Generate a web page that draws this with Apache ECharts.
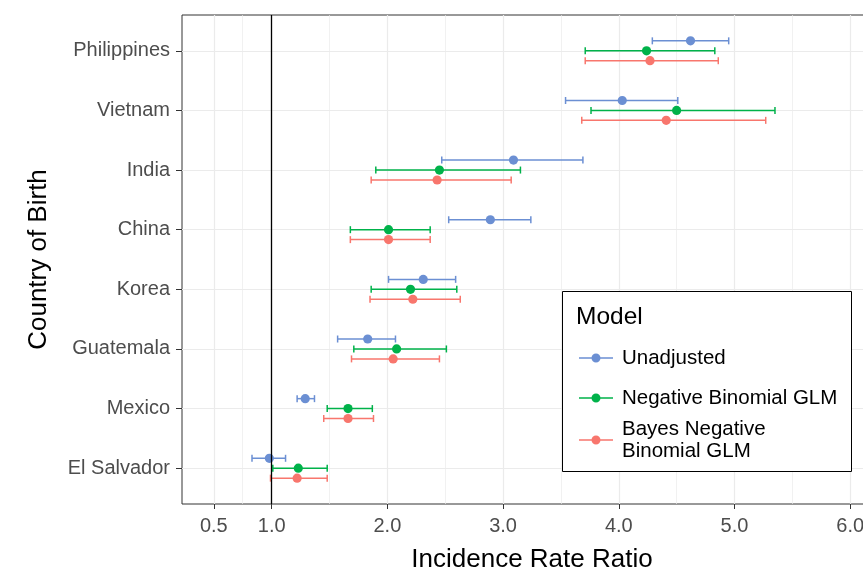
<!DOCTYPE html>
<html><head><meta charset="utf-8">
<script src="https://cdn.jsdelivr.net/npm/echarts@6/dist/echarts.min.js"></script>
<style>html,body{margin:0;padding:0;background:#fff}#chart{width:863px;height:569px}</style>
</head><body><div id="chart"></div>
<script>
const countries = ['Philippines','Vietnam','India','China','Korea','Guatemala','Mexico','El Salvador'];
const models = ['Unadjusted','Negative Binomial GLM','Bayes Negative\nBinomial GLM'];
const unadjEst  = [4.62, 4.03, 3.09, 2.89, 2.31, 1.83, 1.29, 0.98];
const unadjLow  = [4.29, 3.54, 2.47, 2.53, 2.01, 1.57, 1.22, 0.83];
const unadjHigh = [4.95, 4.51, 3.69, 3.24, 2.59, 2.07, 1.37, 1.12];
const nbEst  = [4.24, 4.50, 2.45, 2.01, 2.20, 2.08, 1.66, 1.23];
const nbLow  = [3.71, 3.76, 1.90, 1.68, 1.86, 1.71, 1.48, 1.01];
const nbHigh = [4.83, 5.35, 3.15, 2.37, 2.60, 2.51, 1.87, 1.48];
const bnbEst  = [4.27, 4.41, 2.43, 2.01, 2.22, 2.05, 1.66, 1.22];
const bnbLow  = [3.71, 3.68, 1.86, 1.68, 1.85, 1.69, 1.45, 0.99];
const bnbHigh = [4.86, 5.27, 3.07, 2.37, 2.63, 2.45, 1.88, 1.48];
const xTicks = [0.5, 1, 2, 3, 4, 5, 6];
const xMinorTicks = [0.75, 1.5, 2.5, 3.5, 4.5, 5.5];
const refValue = 1;

const colors = ['#6B8FD3', '#00B24A', '#F8766D'];
const dodge = [-1/6, 0, 1/6];
const FONT = '"Liberation Sans", Arial, sans-serif';
const yTicks = countries.map((c, i) => i + 1);

function build(low, est, high, k) {
  return est.map((e, i) => [low[i], e, high[i], i + 1 + dodge[k]]);
}
const seriesData = [
  build(unadjLow, unadjEst, unadjHigh, 0),
  build(nbLow, nbEst, nbHigh, 1),
  build(bnbLow, bnbEst, bnbHigh, 2)
];

function renderBar(params, api) {
  const y = api.value(3);
  const lo = api.coord([api.value(0), y]);
  const pt = api.coord([api.value(1), y]);
  const hi = api.coord([api.value(2), y]);
  const c = api.visual('color');
  const h = 3.5, lw = 1.5;
  return {type: 'group', children: [
    {type: 'line', shape: {x1: lo[0], y1: lo[1], x2: hi[0], y2: hi[1]}, style: {stroke: c, lineWidth: lw}},
    {type: 'line', shape: {x1: lo[0], y1: lo[1] - h, x2: lo[0], y2: lo[1] + h}, style: {stroke: c, lineWidth: lw}},
    {type: 'line', shape: {x1: hi[0], y1: hi[1] - h, x2: hi[0], y2: hi[1] + h}, style: {stroke: c, lineWidth: lw}},
    {type: 'circle', shape: {cx: pt[0], cy: pt[1], r: 4.6}, style: {fill: c}}
  ]};
}

const iconPath = 'path://M0,3.3H34V4.7H0Z M21.5,4A4.5,4.5 0 1 1 12.5,4A4.5,4.5 0 1 1 21.5,4Z';
const legendTops = [347, 387, 418];

const chart = echarts.init(document.getElementById('chart'), null, {renderer: 'canvas'});
chart.setOption({
  animation: false,
  textStyle: {fontFamily: FONT},
  grid: {left: 182, top: 15, width: 700, height: 489, outerBoundsMode: 'none', containLabel: false,
    show: true, borderColor: '#333333', borderWidth: 1, backgroundColor: 'transparent'},
  xAxis: [{
    type: 'value', min: 0.225, max: 6.275,
    axisLine: {show: false},
    axisTick: {show: true, customValues: xTicks, length: 5, lineStyle: {color: '#333333', width: 1}},
    axisLabel: {customValues: xTicks, formatter: v => Number(v).toFixed(1), fontSize: 20, color: '#4D4D4D', margin: 12, fontFamily: FONT},
    splitLine: {show: true, lineStyle: {color: '#EBEBEB', width: 1.2}},
    name: 'Incidence Rate Ratio', nameLocation: 'middle', nameGap: 43,
    nameTextStyle: {fontSize: 26, color: '#000', fontFamily: FONT}
  }, {
    type: 'value', min: 0.225, max: 6.275, position: 'bottom',
    axisLine: {show: false},
    axisTick: {show: false, customValues: xMinorTicks},
    axisLabel: {show: false, customValues: xMinorTicks},
    splitLine: {show: true, lineStyle: {color: '#EBEBEB', width: 0.7}}
  }],
  yAxis: {
    type: 'value', inverse: true, min: 0.4, max: 8.6,
    axisLine: {show: false},
    axisTick: {show: true, customValues: yTicks, length: 6, lineStyle: {color: '#333333', width: 1}},
    axisLabel: {customValues: yTicks, formatter: v => countries[Math.round(v) - 1] || '', fontSize: 20, color: '#4D4D4D', margin: 12, fontFamily: FONT},
    splitLine: {show: true, lineStyle: {color: '#EBEBEB', width: 1.2}},
    name: 'Country of Birth', nameLocation: 'middle', nameGap: 130, nameRotate: 90,
    nameTextStyle: {fontSize: 26, color: '#000', fontFamily: FONT}
  },
  legend: models.map((m, i) => ({
    data: [m], left: 579, top: legendTops[i], orient: 'vertical', padding: 0,
    itemWidth: 34, itemHeight: 9, icon: iconPath, selectedMode: false,
    textStyle: {fontSize: 20.5, color: '#000', lineHeight: 22, padding: [0, 0, 0, 4], fontFamily: FONT}
  })),
  graphic: [
    {type: 'rect', z: 3, shape: {x: 562.5, y: 291.5, width: 289, height: 180}, style: {fill: '#fff', stroke: '#000', lineWidth: 1}},
    {type: 'text', z: 5, x: 576, y: 317, style: {text: 'Model', font: '24.5px ' + FONT, fill: '#000', verticalAlign: 'middle'}}
  ],
  series: models.map((m, k) => ({
    name: m, type: 'custom', xAxisIndex: 0, yAxisIndex: 0,
    renderItem: renderBar, itemStyle: {color: colors[k]},
    encode: {x: [0, 1, 2], y: 3},
    data: seriesData[k], z: 2
  })).concat([{
    type: 'scatter', data: [], z: 3, silent: true,
    markLine: {silent: true, symbol: 'none', label: {show: false},
      lineStyle: {color: '#000', width: 1.3, type: 'solid'},
      data: [{xAxis: refValue}]}
  }])
});
</script></body></html>
